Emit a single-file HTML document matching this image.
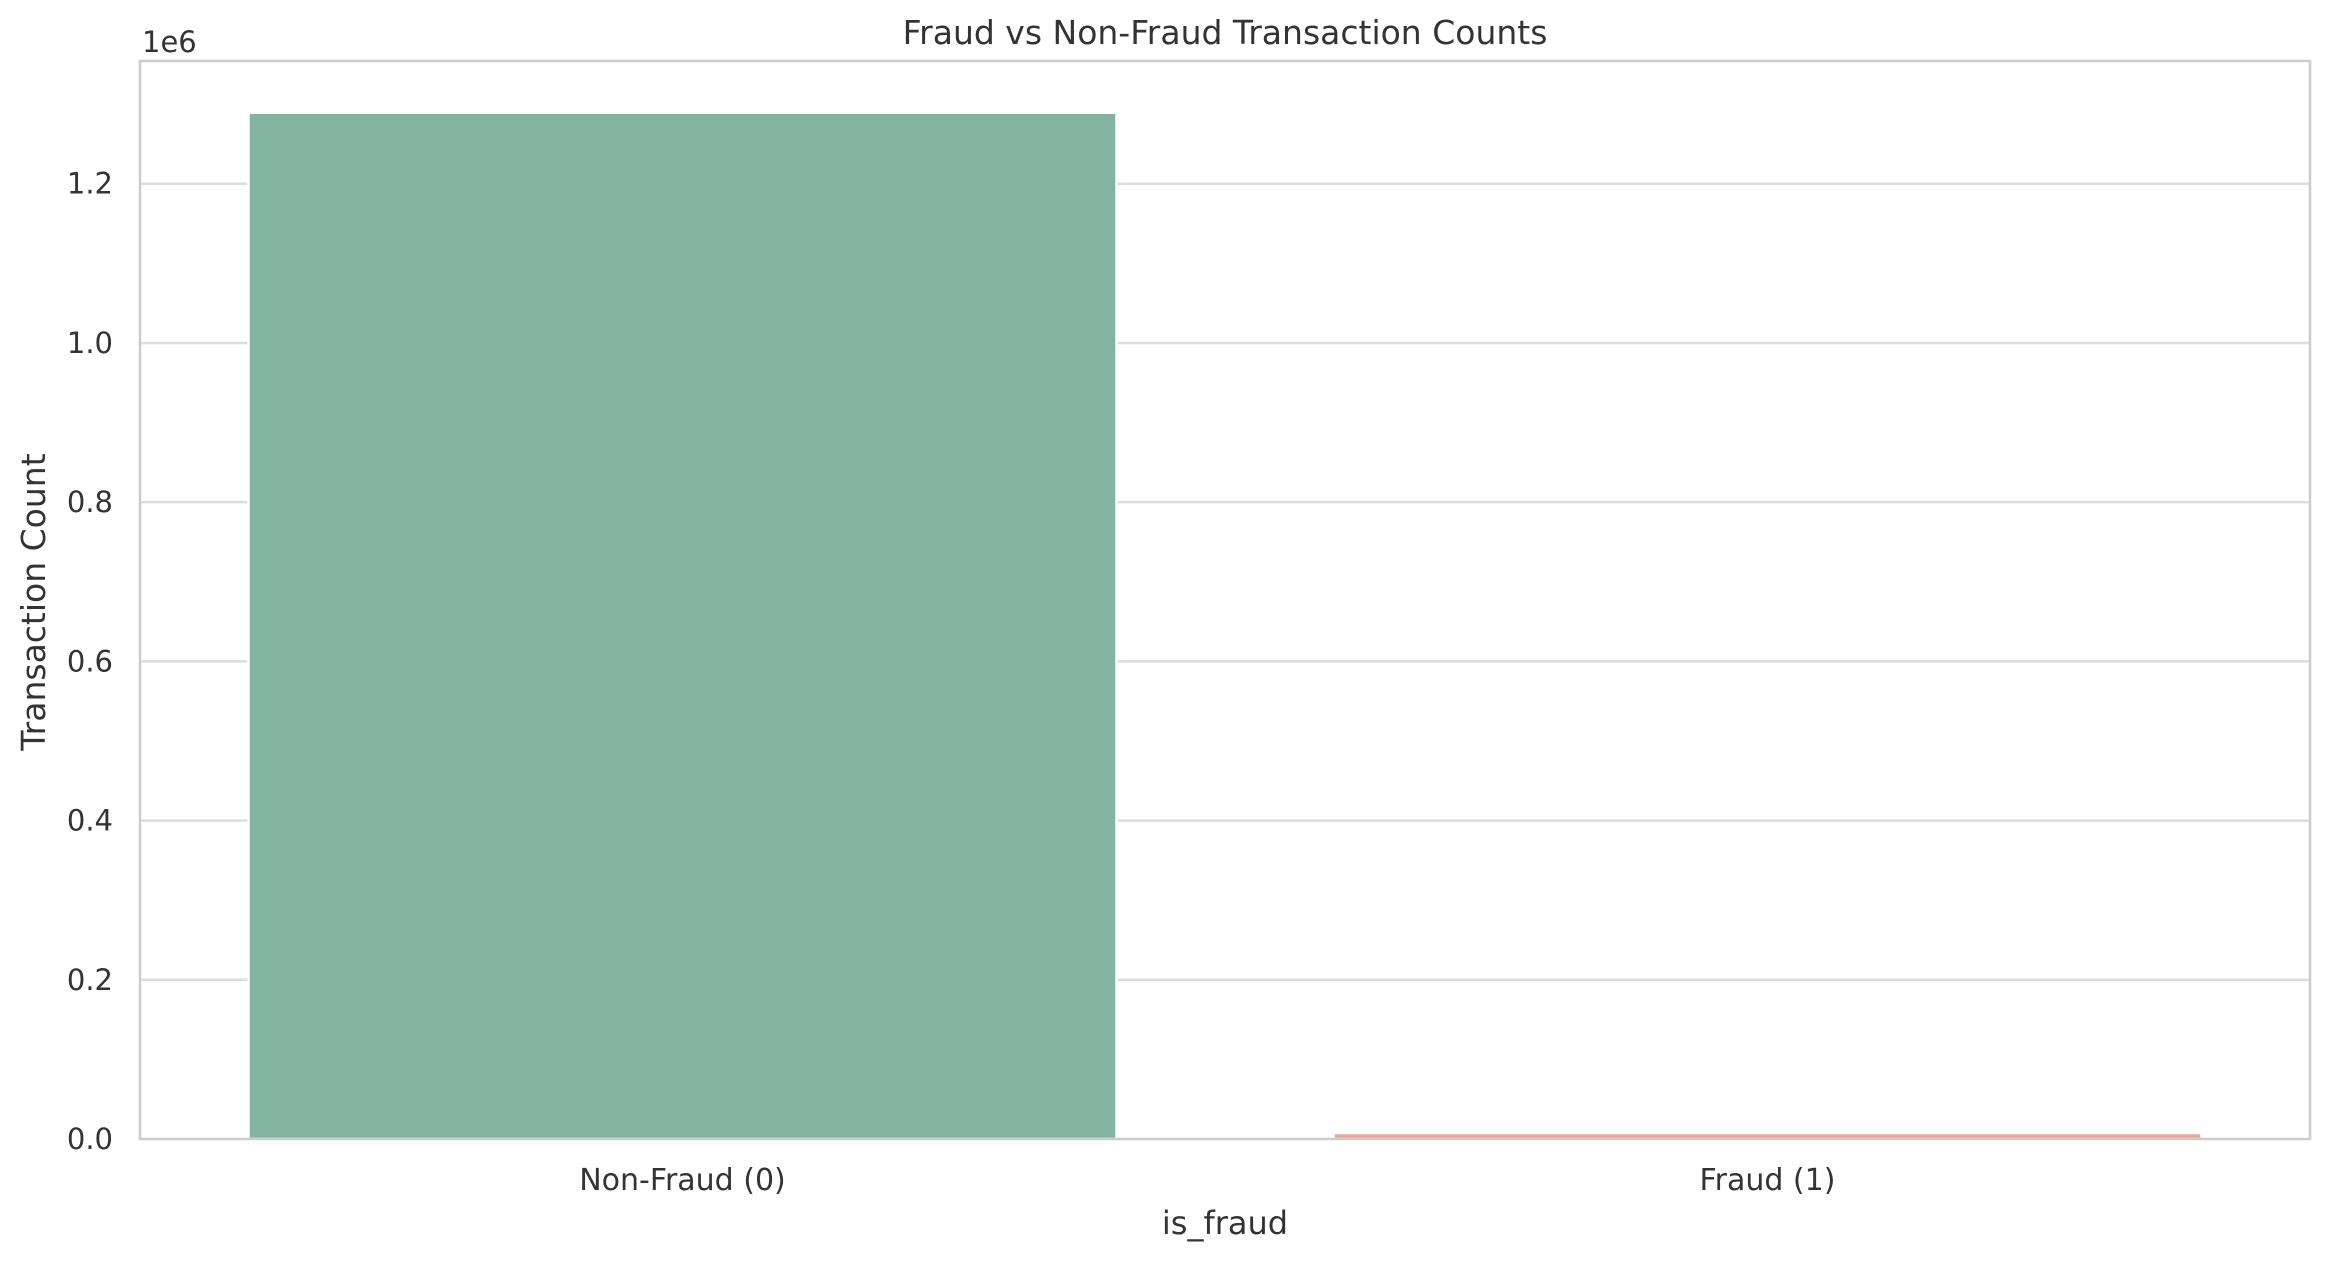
<!DOCTYPE html>
<html><head><meta charset="utf-8"><style>
html,body{margin:0;padding:0;background:#fff;}
svg text{font-family:"DejaVu Sans","Liberation Sans",sans-serif;fill:#333;}
</style></head><body>
<svg id="chart" width="2332" height="1262" xmlns="http://www.w3.org/2000/svg">
<g id="grid"></g>
<g id="bars"></g>
<g id="ticks"></g>
<g id="xticks"></g>
<rect x="140" y="61" width="2170" height="1078" fill="none" stroke="#cccccc" stroke-width="2.5"/>
<text x="1225" y="44" font-size="33" text-anchor="middle">Fraud vs Non-Fraud Transaction Counts</text>
<text x="142" y="52" font-size="29">1e6</text>
<text transform="translate(45,602) rotate(-90)" font-size="33" text-anchor="middle">Transaction Count</text>
<text x="1225" y="1234" font-size="32" text-anchor="middle">is_fraud</text>
</svg>
<script>
const categories = ["Non-Fraud (0)", "Fraud (1)"];
const counts = [1289169, 7506];
const colors = ["#83b4a1", "#e9a792"];
const yTicks = [0, 0.2, 0.4, 0.6, 0.8, 1.0, 1.2];
const yTickLabels = ["0.0", "0.2", "0.4", "0.6", "0.8", "1.0", "1.2"];

const L = 140, R = 2310, T = 61, B = 1139;
const yMax = 1.3542e6;
function y(v){ return B - v / yMax * (B - T); }
const band = (R - L) / categories.length;
function xc(i){ return L + band * (i + 0.5); }
const NS = "http://www.w3.org/2000/svg";
function mk(tag, attrs, parent){ const e = document.createElementNS(NS, tag); for (const k in attrs) e.setAttribute(k, attrs[k]); parent.appendChild(e); return e; }

const grid = document.getElementById("grid"), ticks = document.getElementById("ticks");
yTicks.forEach((t, i) => {
  const yy = y(t * 1e6);
  if (t > 0) {
    const g = mk("line", {x1: L, x2: R, y1: yy, y2: yy, stroke: "#dddddd", "stroke-width": 2.5}, grid);
    
    
  }
  const lb = mk("text", {x: 113, y: yy + 10, "font-size": 29, "text-anchor": "end"}, ticks);
  lb.textContent = yTickLabels[i];
  
  
});

const bars = document.getElementById("bars"), xt = document.getElementById("xticks");
categories.forEach((c, i) => {
  const w = band * 0.8;
  const top = y(counts[i]);
  const r = mk("rect", {x: xc(i) - w / 2, y: top, width: w, height: Math.max(B - top, 0), fill: colors[i], stroke: "#ffffff", "stroke-width": 2.5}, bars);
  
  
  const t = mk("text", {x: xc(i), y: 1190, "font-size": 30, "text-anchor": "middle"}, xt);
  t.textContent = c;
  
  
});
</script>
</body></html>
